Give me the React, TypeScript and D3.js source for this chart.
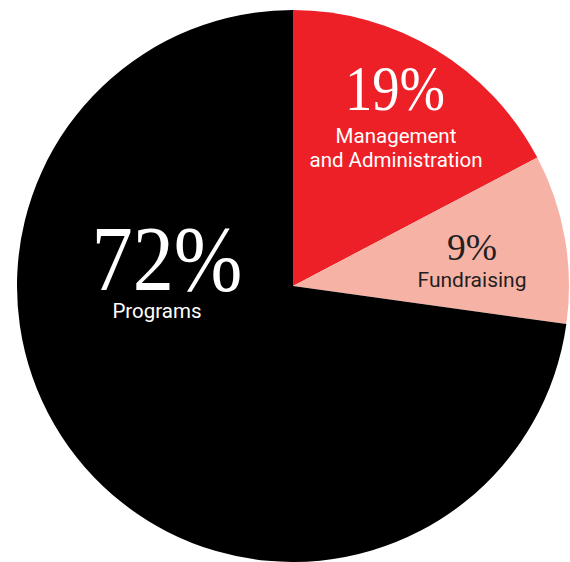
import { useMemo } from "react";
import * as d3 from "d3";

// categories, shown shares, and slice sizes as drawn in the picture
const categories = ["Management and Administration", "Fundraising", "Programs"];
const shareLabels = ["19%", "9%", "72%"];
const sliceValues = [17.3, 9.9, 72.8];
const colors = ["#ed1f27", "#f7b2a6", "#000000"];

const W = 570;
const H = 562;
const CX = 293;
const CY = 286;
const R = 276;

const serif = "'Liberation Serif', 'DejaVu Serif', serif";
const sans = "Roboto, 'Noto Sans', sans-serif";

export default function App() {
  const arcs = useMemo(
    () =>
      d3
        .pie<number>()
        .sort(null)
        .value((d) => d)(sliceValues),
    []
  );
  const arc = d3.arc<d3.PieArcDatum<number>>().innerRadius(0).outerRadius(R);

  return (
    <div style={{ position: "absolute", left: 0, top: 0, background: "#fff" }}>
      <svg width={W} height={H} role="img" aria-label="Pie chart of spending">
        <g transform={`translate(${CX},${CY})`}>
          {arcs.map((a, i) => (
            <path key={categories[i]} d={arc(a) ?? ""} fill={colors[i]} />
          ))}
        </g>

        {/* Management and Administration */}
        <g fill="#fff" textAnchor="middle">
          <text x={395} y={110} fontFamily={serif} fontSize={63} textLength={100} lengthAdjust="spacingAndGlyphs">
            {shareLabels[0]}
          </text>
          <text x={396} y={143} fontFamily={sans} fontSize={20.5}>Management</text>
          <text x={396} y={167} fontFamily={sans} fontSize={20.5}>and Administration</text>
        </g>

        {/* Fundraising */}
        <g fill="#231f20" textAnchor="middle">
          <text x={472} y={260} fontFamily={serif} fontSize={38} textLength={50} lengthAdjust="spacingAndGlyphs">
            {shareLabels[1]}
          </text>
          <text x={472} y={287} fontFamily={sans} fontSize={21}>Fundraising</text>
        </g>

        {/* Programs */}
        <g fill="#fff" textAnchor="middle">
          <text x={167} y={290} fontFamily={serif} fontSize={93} textLength={151} lengthAdjust="spacingAndGlyphs">
            {shareLabels[2]}
          </text>
          <text x={157} y={318} fontFamily={sans} fontSize={20.5}>Programs</text>
        </g>
      </svg>
    </div>
  );
}
